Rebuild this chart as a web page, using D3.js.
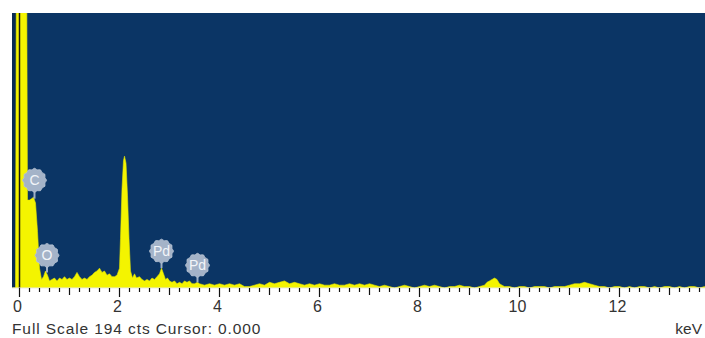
<!DOCTYPE html>
<html>
<head>
<meta charset="utf-8">
<script src="https://cdn.jsdelivr.net/npm/d3@7"></script>
<style>
  body { margin: 0; background: #fff; }
  svg { display: block; }
  text { font-family: "Liberation Sans", Arial, sans-serif; }
</style>
</head>
<body>
<svg id="chart" width="705" height="338"></svg>
<script>
// spectrum: energy (keV) and counts
const energy = [-0.14, -0.08, -0.06, 0.14, 0.16, 0.2, 0.24, 0.28, 0.32, 0.36, 0.4, 0.44, 0.48, 0.52, 0.56, 0.6,
  0.65, 0.7, 0.75, 0.8, 0.85, 0.9, 0.95, 1.0, 1.05, 1.1, 1.15, 1.2, 1.25, 1.3, 1.35, 1.4, 1.45, 1.5, 1.55, 1.6,
  1.65, 1.7, 1.75, 1.8, 1.85, 1.9, 1.95, 2.0, 2.02, 2.05, 2.08, 2.1, 2.13, 2.16, 2.19, 2.22, 2.26, 2.3, 2.34, 2.4,
  2.45, 2.5, 2.55, 2.6, 2.65, 2.7, 2.75, 2.8, 2.84, 2.88, 2.92, 2.96, 3.0, 3.05, 3.1, 3.15, 3.2, 3.25, 3.3,
  3.35, 3.4, 3.45, 3.5, 3.56, 3.6, 3.7, 3.8, 3.9, 4.0, 4.1, 4.2, 4.3, 4.4, 4.5, 4.6, 4.7, 4.8, 4.9, 5.0, 5.1,
  5.2, 5.3, 5.4, 5.5, 5.6, 5.7, 5.8, 5.9, 6.0, 6.1, 6.2, 6.3, 6.4, 6.5, 6.6, 6.7, 6.8, 6.9, 7.0, 7.1, 7.2,
  7.3, 7.4, 7.5, 7.6, 7.7, 7.8, 7.9, 8.0, 8.1, 8.2, 8.3, 8.4, 8.5, 8.6, 8.7, 8.8, 8.9, 9.0, 9.1, 9.2, 9.3,
  9.35, 9.4, 9.45, 9.5, 9.55, 9.6, 9.65, 9.7, 9.8, 9.9, 10.0, 10.1, 10.2, 10.3, 10.4, 10.5, 10.6, 10.7,
  10.8, 10.9, 11.0, 11.1, 11.2, 11.3, 11.4, 11.5, 11.6, 11.7, 11.8, 11.9, 12.0, 12.1, 12.2, 12.3, 12.4,
  12.5, 12.6, 12.7, 12.8, 12.9, 13.0, 13.1, 13.2, 13.3, 13.4, 13.5, 13.6, 13.7, 13.8, 14.0];
const counts = [0, 0, 260, 260, 62, 62, 63, 64, 60, 40, 14, 6, 8, 12, 9, 5,
  6, 7, 5, 7, 6, 8, 6, 7, 6, 8, 11, 8, 6, 7, 6, 8, 9, 11, 12, 14,
  11, 12, 9, 10, 8, 8, 9, 14, 35, 70, 90, 93, 88, 65, 35, 12, 7, 10, 7, 8,
  6, 5, 6, 5, 7, 6, 8, 10, 14, 10, 6, 7, 5, 4, 5, 3, 4, 3, 5,
  4, 5, 3, 3, 4, 3, 2, 3, 2, 3, 2, 3, 2, 3, 1, 1, 2, 3, 2, 4, 3,
  4, 5, 3, 4, 3, 2, 3, 2, 3, 2, 2, 3, 2, 2, 3, 2, 3, 2, 3, 2, 1,
  2, 1, 0, 1, 2, 1, 0, 1, 2, 1, 2, 1, 0, 1, 1, 2, 1, 1, 0, 1, 2,
  4, 5, 6, 7, 6, 3, 2, 1, 1, 0, 1, 1, 0, 1, 1, 1, 0, 1,
  1, 1, 2, 3, 3, 4, 3, 2, 1, 1, 0, 1, 1, 0, 1, 0, 1,
  1, 0, 1, 0, 1, 1, 0, 1, 0, 1, 1, 0, 1, 0, 0];

// element markers: name, energy of line, label height (cts), peak top (cts)
const markNames = ["C", "O", "Pd", "Pd"];
const markKeV = [0.3, 0.55, 2.84, 3.56];
const markLabelCts = [76, 23, 26, 16];
const markPeakCts = [63, 11, 14, 4];

const xTicks = [0, 2, 4, 6, 8, 10, 12];
const fullScale = 194;

const svg = d3.select("#chart");
const plotLeft = 12, plotTop = 13, plotBottom = 288, plotRight = 705;

const x = d3.scaleLinear().domain([0, 14]).range([19.5, 19.5 + 14 * 50]);
const y = d3.scaleLinear().domain([0, fullScale]).range([plotBottom, plotTop]);

svg.append("clipPath").attr("id", "plotclip")
  .append("rect").attr("x", plotLeft).attr("y", plotTop)
  .attr("width", plotRight - plotLeft).attr("height", plotBottom - plotTop);

svg.append("rect")
  .attr("x", plotLeft).attr("y", plotTop)
  .attr("width", plotRight - plotLeft).attr("height", plotBottom - plotTop)
  .attr("fill", "#0b3565");

svg.append("rect")
  .attr("x", plotLeft).attr("y", plotTop)
  .attr("width", 4).attr("height", plotBottom - plotTop)
  .attr("fill", "#072a52");

const spectrum = energy.map((e, i) => ({ e: e, c: counts[i] }));

const area = d3.area()
  .x(d => x(d.e))
  .y0(plotBottom)
  .y1(d => y(d.c));

svg.append("path")
  .datum(spectrum)
  .attr("clip-path", "url(#plotclip)")
  .attr("d", area)
  .attr("fill", "#f4f400")
  .attr("stroke", "#e8e800")
  .attr("stroke-width", 0.6);

// cursor line at 0.000
svg.append("line")
  .attr("x1", x(0)).attr("x2", x(0))
  .attr("y1", plotTop).attr("y2", plotBottom)
  .attr("stroke", "#1a1a10").attr("stroke-width", 1.5);

// axis
const minor = d3.range(0, 70).map(i => i * 0.2);
svg.append("line")
  .attr("x1", plotLeft).attr("x2", plotRight)
  .attr("y1", plotBottom).attr("y2", plotBottom)
  .attr("stroke", "#e8e8e8").attr("stroke-width", 1);

svg.selectAll(".tick")
  .data(minor)
  .enter()
  .append("line")
  .attr("x1", d => x(d)).attr("x2", d => x(d))
  .attr("y1", plotBottom)
  .attr("y2", (d, i) => plotBottom + (i % 10 === 0 ? 9 : i % 5 === 0 ? 7 : 4))
  .attr("stroke", "#111")
  .attr("stroke-width", 1.2);

svg.selectAll(".xlabel")
  .data(xTicks)
  .enter()
  .append("text")
  .attr("x", d => x(d) - 2)
  .attr("y", 312)
  .attr("text-anchor", "middle")
  .attr("font-size", 16)
  .attr("fill", "#333")
  .text(d => d);

svg.append("text")
  .attr("x", 12).attr("y", 334)
  .attr("font-size", 15.5)
  .attr("letter-spacing", 0.9)
  .attr("fill", "#333")
  .text("Full Scale " + fullScale + " cts Cursor: 0.000");

svg.append("text")
  .attr("x", 702).attr("y", 334)
  .attr("text-anchor", "end")
  .attr("font-size", 15.5)
  .attr("fill", "#333")
  .text("keV");

// scalloped label badges
const badge = d3.lineRadial()
  .angle(d => d[0])
  .radius(d => d[1])
  .curve(d3.curveCardinalClosed);
const badgePts = d3.range(24).map(i => [i * Math.PI / 12, i % 2 === 0 ? 12 : 10.8]);

const marks = svg.selectAll(".mark")
  .data(markNames.map((n, i) => ({ n: n, e: markKeV[i], l: markLabelCts[i], p: markPeakCts[i] })))
  .enter()
  .append("g")
  .attr("transform", d => `translate(${x(d.e)},${y(d.l)})`);

marks.append("line")
  .attr("x1", 0).attr("x2", 0)
  .attr("y1", 8)
  .attr("y2", d => y(d.p) - y(d.l))
  .attr("stroke", "#9fb0c6")
  .attr("stroke-width", 2);

marks.append("path")
  .attr("d", badge(badgePts))
  .attr("fill", "#a4b3c8")
  .attr("stroke", "#b9c5d5")
  .attr("stroke-width", 0.8);

marks.append("text")
  .attr("y", 5)
  .attr("text-anchor", "middle")
  .attr("font-size", 14)
  .attr("fill", "#f2f5f9")
  .text(d => d.n);
</script>
</body>
</html>
